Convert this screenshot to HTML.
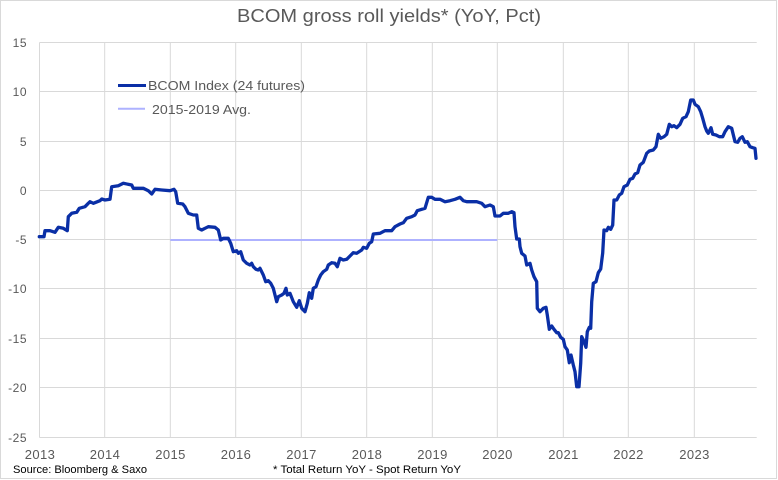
<!DOCTYPE html>
<html><head><meta charset="utf-8"><style>
html,body{margin:0;padding:0;background:#fff;}
svg{display:block;}
text{font-family:"Liberation Sans",Arial,sans-serif;}
</style></head><body>
<svg width="778" height="480" viewBox="0 0 778 480" xmlns="http://www.w3.org/2000/svg">
<rect x="0.5" y="0.5" width="776" height="478" fill="#fff" stroke="#d9d9d9" stroke-width="1"/>
<text x="237" y="22" font-size="18" fill="#595959" textLength="304" lengthAdjust="spacingAndGlyphs">BCOM gross roll yields* (YoY, Pct)</text>
<g stroke="#d9d9d9" stroke-width="1">
<line x1="39.5" y1="42.5" x2="756.7" y2="42.5"/>
<line x1="39.5" y1="91.5" x2="756.7" y2="91.5"/>
<line x1="39.5" y1="141.5" x2="756.7" y2="141.5"/>
<line x1="39.5" y1="190.5" x2="756.7" y2="190.5"/>
<line x1="39.5" y1="239.5" x2="756.7" y2="239.5"/>
<line x1="39.5" y1="288.5" x2="756.7" y2="288.5"/>
<line x1="39.5" y1="338.5" x2="756.7" y2="338.5"/>
<line x1="39.5" y1="387.5" x2="756.7" y2="387.5"/>
<line x1="39.5" y1="437.5" x2="756.7" y2="437.5"/>
<line x1="39.5" y1="42.5" x2="39.5" y2="437.5"/>
<line x1="104.7" y1="42.5" x2="104.7" y2="437.5"/>
<line x1="170.3" y1="42.5" x2="170.3" y2="437.5"/>
<line x1="235.7" y1="42.5" x2="235.7" y2="437.5"/>
<line x1="301.3" y1="42.5" x2="301.3" y2="437.5"/>
<line x1="366.7" y1="42.5" x2="366.7" y2="437.5"/>
<line x1="432.3" y1="42.5" x2="432.3" y2="437.5"/>
<line x1="497.3" y1="42.5" x2="497.3" y2="437.5"/>
<line x1="563.3" y1="42.5" x2="563.3" y2="437.5"/>
<line x1="628.3" y1="42.5" x2="628.3" y2="437.5"/>
<line x1="694.3" y1="42.5" x2="694.3" y2="437.5"/>
</g>
<g font-size="12" fill="#595959" text-anchor="end" letter-spacing="0.5">
<text x="27" y="47">15</text>
<text x="27" y="96">10</text>
<text x="27" y="146">5</text>
<text x="27" y="195">0</text>
<text x="27" y="244">-5</text>
<text x="27" y="293">-10</text>
<text x="27" y="343">-15</text>
<text x="27" y="392">-20</text>
<text x="27" y="442">-25</text>
</g>
<g font-size="13" fill="#595959" text-anchor="middle" letter-spacing="0.4">
<text x="40" y="459">2013</text>
<text x="105" y="459">2014</text>
<text x="170.5" y="459">2015</text>
<text x="236" y="459">2016</text>
<text x="301.5" y="459">2017</text>
<text x="367" y="459">2018</text>
<text x="432.5" y="459">2019</text>
<text x="497.5" y="459">2020</text>
<text x="563.5" y="459">2021</text>
<text x="628.5" y="459">2022</text>
<text x="694.5" y="459">2023</text>
</g>
<text x="13" y="473" font-size="11" fill="#000" textLength="134" lengthAdjust="spacingAndGlyphs">Source: Bloomberg &amp; Saxo</text>
<text x="273" y="473" font-size="11" fill="#000" textLength="188" lengthAdjust="spacingAndGlyphs">* Total Return YoY - Spot Return YoY</text>
<line x1="170.3" y1="240" x2="497.3" y2="240" stroke="#aeb2ff" stroke-width="2"/>
<polyline fill="none" stroke="#0a2fa6" stroke-width="3.3" stroke-linejoin="round" stroke-linecap="round" points="39.3,236.7 44,236.7 45,230.7 50,230.7 55,232.3 58.3,227.3 63.3,228.3 67.3,230.7 68.3,216.7 71.7,213.3 76.7,212.3 79.3,208.3 85,206.7 88.3,203.3 90,201.7 93.3,203.3 100,200.7 101.7,199 105,200 110,199.3 111.7,186.7 118.3,185.7 123.3,183.3 131.7,185 133.3,188.3 143.3,188.3 148.3,190.7 151.7,194 155,189.3 161.7,190 170,190.7 174,189.3 175.7,191.7 177.7,203.3 182.7,204 185,206.7 188.3,213.3 193.3,215 196.7,215 198.3,228.3 201.7,230 205,228.3 208.3,226.7 215,227.3 218.3,230 220.7,240 223.3,238.3 228.3,238.3 230.7,243.3 233.3,251.7 236.7,250.7 238.3,253.3 240.7,251.7 243.3,260 246.7,263.3 250,265 251.7,263.3 253.3,266.7 256,269.3 258.3,270 260,268.3 263.3,275 265.7,281.7 268.3,280.7 270.7,283.3 273.3,288.3 275,295 276.7,301.7 278.3,296.7 281.7,295 284,293.3 286,288.3 287.3,295 290,293.3 293.3,301.7 296.7,307.3 299.3,300.7 301.7,308.3 305,311.7 307.3,303.3 309.3,292.7 311.7,298.3 313.3,288.3 316,286.7 318.3,280 320.7,275 323.3,271.7 326.7,269.3 328.3,265 331.7,262.7 335,263.3 337.3,266.7 340,258.3 343.3,260 346.7,259.3 350,256 353.3,252.7 356.7,253.3 361.7,250 363.3,247.3 366.7,248.3 369.3,243.3 371.7,241.7 373.3,234 380,233.3 385,230.7 391.7,230.7 395,226.7 400,224 403.3,222.7 406.7,218.3 411.7,216.7 415,215 417.3,210.7 421.7,209.3 425,208.3 428.3,197.3 431.7,197.3 435,199.3 440,199.3 445,201.7 450,200.7 455,199.3 460,197.3 463.3,200.7 466.7,201.7 476.7,201.7 481.7,203.3 485,206.7 490,205 493.3,206.7 495,216 500,216 503.3,213.3 508.3,213.3 511.7,211.7 514,212.7 515,226.7 516.7,239 519.3,239 520,246.7 521.7,253.3 525,256 526.7,265 530,263.3 531.7,270 534,276.7 536.7,281.7 537.3,308.3 540,311.7 543.3,308.3 546,307.3 547.3,315 549.3,329.3 551.7,326 554,329.3 556.7,332.7 558.3,332.7 560.7,337.3 563.3,339.3 565,346.7 567.3,350 569.3,362.7 571,355 573.3,365 575,371.7 576.7,386.7 579,386.7 580.7,363.3 581.7,336.7 583.3,340 586,347.3 587.3,331.7 589.3,327.3 590.7,328.3 591.7,301.7 593.3,283.3 596,281.7 598.3,272.7 600.7,269 602.7,253 604,230 606.7,230.7 608.3,227.3 610.7,229.3 612.7,225 614,200 616.7,200 619.3,195 621.7,193.3 624,186.7 627.3,185 630,179.3 632.7,178.3 635,174 637.7,172.7 640,165 643.3,162.3 646.7,153.3 649.3,151 653.3,150 656,146.7 658.3,134.3 660.7,138.3 664,136.7 666.7,134.3 669.3,124.3 671.7,126.7 674,125.7 676.7,127.7 680,124.3 682.7,118.3 686,116.7 688.3,111.7 690.7,100 693.3,100 695,104.3 698.3,106.7 700.7,111.7 702.7,118.3 705,126.7 706.7,131 708.3,133.3 711,127.7 712.7,134.3 716,135 719.3,136.7 722.7,136.7 725,131.7 728.3,126.7 731.7,128.3 735,141.7 737.7,142.3 740,138.3 742.3,136.7 745,142.3 747.3,141.7 750,146.7 752.7,147.7 755,148.3 756,158.3"/>
<line x1="118" y1="85.5" x2="146" y2="85.5" stroke="#0a2fa6" stroke-width="3"/>
<text x="148" y="90" font-size="12.5" fill="#595959" textLength="157" lengthAdjust="spacingAndGlyphs">BCOM Index (24 futures)</text>
<line x1="118" y1="108.7" x2="145" y2="108.7" stroke="#aeb2ff" stroke-width="2"/>
<text x="152" y="114" font-size="12.5" fill="#595959" textLength="99" lengthAdjust="spacingAndGlyphs">2015-2019 Avg.</text>
</svg>
</body></html>
